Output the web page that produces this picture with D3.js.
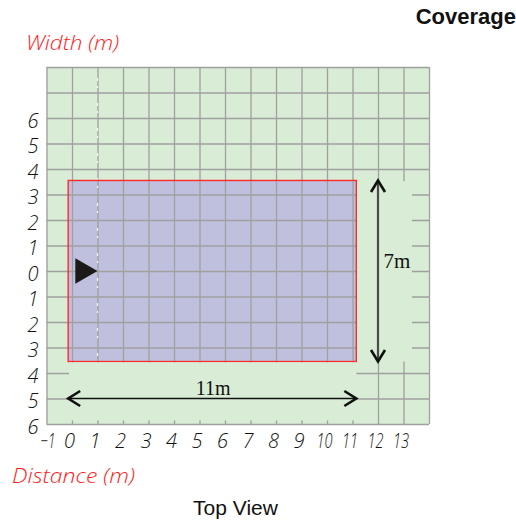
<!DOCTYPE html>
<html>
<head>
<meta charset="utf-8">
<script src="https://cdn.jsdelivr.net/npm/d3@7"></script>
<style>
  html, body { margin: 0; padding: 0; background: #ffffff; }
  svg { display: block; }
  .tick-label { font-family: "Open Sans", "DejaVu Sans", sans-serif; font-weight: 300; font-style: italic; fill: #111; }
</style>
</head>
<body>
<svg id="chart" width="516" height="527"></svg>
<script>
// ---------- data ----------
const xDomain = [-1, 14];
const yDomain = [-6, 8];
const xTicks = [-1, 0, 1, 2, 3, 4, 5, 6, 7, 8, 9, 10, 11, 12, 13];
const yTicks = [-6, -5, -4, -3, -2, -1, 0, 1, 2, 3, 4, 5, 6];
const gridX = d3.range(-1, 15);
const gridY = d3.range(-6, 9);
const coverageX = [-0.15, 11.15];
const coverageY = [-3.55, 3.55];
const sensorX = [0.13, 1.0];
const sensorY = [-0.5, 0.5];
const centerLineX = 1;
const lengthDim = { label: "11m", from: -0.15, to: 11.15, at: -5 };
const widthDim = { label: "7m", from: -3.55, to: 3.55, at: 12 };
const maskRight = { x: [11.15, 13.33], y: [-3.55, 3.55] };
const maskBottom = { x: [-0.15, 11.15], y: [-5.86, -3.55] };
const title = "Coverage";
const subtitle = "Top View";
const yTitle = "Width (m)";
const xTitle = "Distance (m)";

// ---------- setup ----------
const svg = d3.select("#chart");
const pLeft = 46.5, pRight = 429, pTop = 67, pBottom = 424;
const x = d3.scaleLinear().domain(xDomain).range([pLeft, pRight]);
const y = d3.scaleLinear().domain(yDomain).range([pBottom, pTop]);

const green = "#d9ecd5";
const gridColor = "#a0a0a0";
const thinFont = "'Open Sans', 'DejaVu Sans', sans-serif";

// background
svg.append("rect")
  .attr("x", x(xDomain[0])).attr("y", y(yDomain[1]))
  .attr("width", x(xDomain[1]) - x(xDomain[0]))
  .attr("height", y(yDomain[0]) - y(yDomain[1]))
  .attr("fill", green);

// coverage fill
svg.append("rect")
  .attr("x", x(coverageX[0])).attr("y", y(coverageY[1]))
  .attr("width", x(coverageX[1]) - x(coverageX[0]))
  .attr("height", y(coverageY[0]) - y(coverageY[1]))
  .attr("fill", "#bfc0de");

// grid via axes
const gx = svg.append("g")
  .attr("transform", `translate(0,${pBottom})`)
  .call(d3.axisBottom(x).tickValues(gridX).tickSize(-(pBottom - pTop)).tickFormat(""));
const gy = svg.append("g")
  .attr("transform", `translate(${pLeft},0)`)
  .call(d3.axisLeft(y).tickValues(gridY).tickSize(-(pRight - pLeft)).tickFormat(""));
[gx, gy].forEach(g => {
  g.select(".domain").remove();
  g.selectAll(".tick line").attr("stroke", gridColor).attr("stroke-width", 1.3);
});

// center dash-dot line
svg.append("line")
  .attr("x1", x(centerLineX)).attr("x2", x(centerLineX))
  .attr("y1", y(yDomain[1]) + 11).attr("y2", y(coverageY[0]))
  .attr("stroke", "#f4f4f4").attr("stroke-width", 1.3)
  .attr("stroke-dasharray", "3,5,2,15");

// coverage outline
svg.append("rect")
  .attr("x", x(coverageX[0])).attr("y", y(coverageY[1]))
  .attr("width", x(coverageX[1]) - x(coverageX[0]))
  .attr("height", y(coverageY[0]) - y(coverageY[1]))
  .attr("fill", "none").attr("stroke", "#ff2a2a").attr("stroke-width", 1.4);

// masks behind dimension annotations
[maskRight, maskBottom].forEach(m => {
  svg.append("rect")
    .attr("x", x(m.x[0]) + 0.8).attr("y", y(m.y[1]) + 0.8)
    .attr("width", x(m.x[1]) - x(m.x[0]) - 0.8)
    .attr("height", y(m.y[0]) - y(m.y[1]) - 0.8)
    .attr("fill", green);
});

// sensor triangle
svg.append("path")
  .attr("d", d3.line()([[x(sensorX[0]), y(sensorY[1])], [x(sensorX[1]), y(0)], [x(sensorX[0]), y(sensorY[0])]]) + "Z")
  .attr("fill", "#1c1a18");

// horizontal dimension
const hy = y(lengthDim.at);
svg.append("line")
  .attr("x1", x(lengthDim.from)).attr("x2", x(lengthDim.to))
  .attr("y1", hy).attr("y2", hy)
  .attr("stroke", "#111").attr("stroke-width", 1.6);
svg.append("path")
  .attr("d", `M${x(lengthDim.from) + 12},${hy - 7.5} L${x(lengthDim.from)},${hy} L${x(lengthDim.from) + 12},${hy + 7.5}`)
  .attr("fill", "none").attr("stroke", "#111").attr("stroke-width", 2.6);
svg.append("path")
  .attr("d", `M${x(lengthDim.to) - 12},${hy - 7.5} L${x(lengthDim.to)},${hy} L${x(lengthDim.to) - 12},${hy + 7.5}`)
  .attr("fill", "none").attr("stroke", "#111").attr("stroke-width", 2.6);
svg.append("text")
  .attr("x", (x(lengthDim.from) + x(lengthDim.to)) / 2 + 1).attr("y", hy - 3.5)
  .attr("text-anchor", "middle")
  .attr("font-family", "'Liberation Serif', 'Times New Roman', serif")
  .attr("font-size", 20).attr("fill", "#111")
  .text(lengthDim.label);

// vertical dimension
const vx = x(widthDim.at);
svg.append("line")
  .attr("x1", vx).attr("x2", vx)
  .attr("y1", y(widthDim.to)).attr("y2", y(widthDim.from))
  .attr("stroke", "#4a4a4a").attr("stroke-width", 2.2);
svg.append("path")
  .attr("d", `M${vx - 7},${y(widthDim.to) + 11.5} L${vx},${y(widthDim.to)} L${vx + 7},${y(widthDim.to) + 11.5}`)
  .attr("fill", "none").attr("stroke", "#111").attr("stroke-width", 2.6);
svg.append("path")
  .attr("d", `M${vx - 7},${y(widthDim.from) - 11.5} L${vx},${y(widthDim.from)} L${vx + 7},${y(widthDim.from) - 11.5}`)
  .attr("fill", "none").attr("stroke", "#111").attr("stroke-width", 2.6);
svg.append("text")
  .attr("x", vx + 5.5).attr("y", 267.5)
  .attr("font-family", "'Liberation Serif', 'Times New Roman', serif")
  .attr("font-size", 21).attr("fill", "#111")
  .text(widthDim.label);

// tick labels via axes
const ax = svg.append("g")
  .attr("transform", `translate(-3,${pBottom})`)
  .call(d3.axisBottom(x).tickValues(xTicks).tickSize(0).tickPadding(0).tickFormat(d => d < 0 ? "\u2212" + Math.abs(d) : String(d)));
ax.select(".domain").remove();
ax.selectAll("text").attr("class", "tick-label").attr("font-size", 20).attr("dy", null).attr("y", 23.5)
  .attr("dx", d => d < 0 ? 4 : null)
  .attr("textLength", d => d < 0 ? 15 : (String(d).length > 1 ? 16 : null))
  .attr("lengthAdjust", "spacingAndGlyphs");

const ay = svg.append("g")
  .attr("transform", `translate(38.5,0)`)
  .call(d3.axisLeft(y).tickValues(yTicks).tickSize(0).tickPadding(0).tickFormat(d => String(Math.abs(d))));
ay.select(".domain").remove();
ay.selectAll("text").attr("class", "tick-label").attr("font-size", 20).attr("dy", null).attr("y", 9);

// titles
svg.append("text")
  .attr("x", 26).attr("y", 50)
  .attr("font-family", thinFont).attr("font-weight", 300).attr("font-style", "italic")
  .attr("font-size", 21).attr("fill", "#ff1a1a")
  .attr("textLength", 93).attr("lengthAdjust", "spacingAndGlyphs")
  .text(yTitle);
svg.append("text")
  .attr("x", 12).attr("y", 483)
  .attr("font-family", thinFont).attr("font-weight", 300).attr("font-style", "italic")
  .attr("font-size", 21).attr("fill", "#ff1a1a")
  .attr("textLength", 123).attr("lengthAdjust", "spacingAndGlyphs")
  .text(xTitle);
svg.append("text")
  .attr("x", 516).attr("y", 23.5)
  .attr("text-anchor", "end")
  .attr("font-family", "'Liberation Sans', Arial, sans-serif").attr("font-weight", "bold")
  .attr("font-size", 22).attr("fill", "#111")
  .text(title);
svg.append("text")
  .attr("x", 235.5).attr("y", 515)
  .attr("text-anchor", "middle")
  .attr("font-family", "'Liberation Sans', Arial, sans-serif")
  .attr("font-size", 21).attr("fill", "#111")
  .text(subtitle);
</script>
</body>
</html>
